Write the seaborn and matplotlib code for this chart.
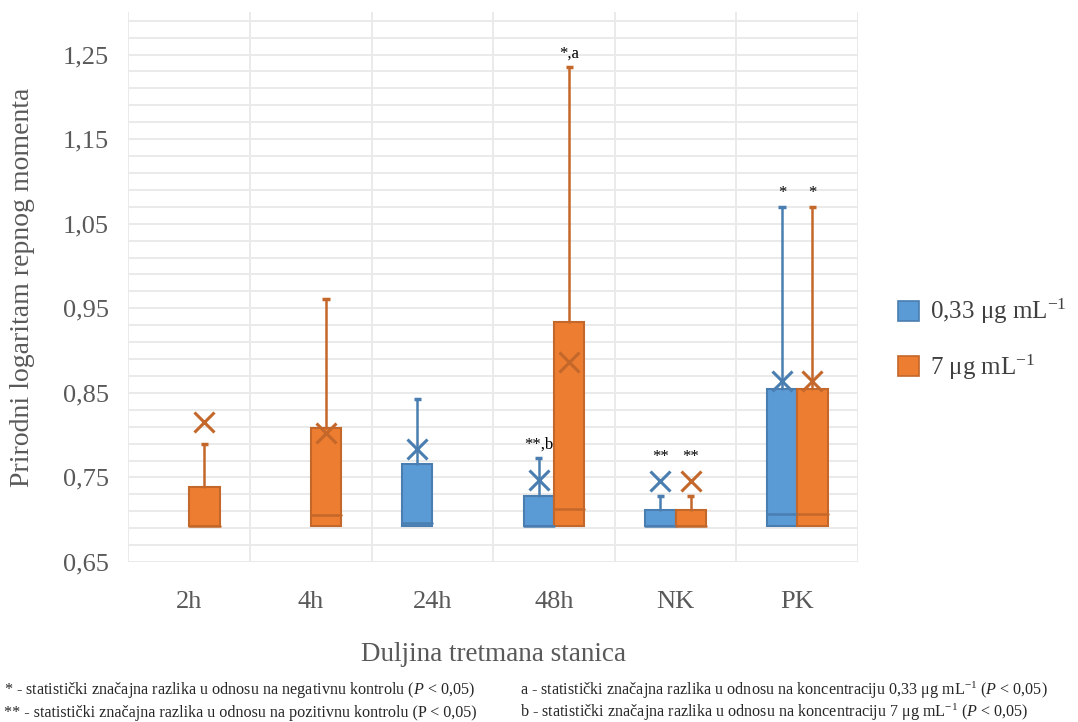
import numpy as np
import pandas as pd
import matplotlib
matplotlib.use('Agg')
import matplotlib.pyplot as plt
from matplotlib.patches import Patch
from matplotlib.ticker import FuncFormatter
import seaborn as sns

# data (natural log of tail moment)
groups = ['2h', '4h', '24h', '48h', 'NK', 'PK']
conc = ['0,33 μg mL$^{-1}$', '7 μg mL$^{-1}$']

q1_low = [0.693, 0.693, 0.693, 0.693, 0.693, 0.693]

q3_033 = [np.nan, np.nan, 0.766, 0.728, 0.711, 0.854]
med_033 = [np.nan, np.nan, 0.696, 0.693, 0.693, 0.707]
max_033 = [np.nan, np.nan, 0.843, 0.773, 0.728, 1.070]
mean_033 = [np.nan, np.nan, 0.784, 0.747, 0.746, 0.864]
sig_033 = ['', '', '', '**,b', '**', '*']

q3_7 = [0.739, 0.809, np.nan, 0.934, 0.711, 0.854]
med_7 = [0.693, 0.706, np.nan, 0.713, 0.693, 0.707]
max_7 = [0.790, 0.961, np.nan, 1.235, 0.728, 1.070]
mean_7 = [0.815, 0.803, np.nan, 0.887, 0.746, 0.864]
sig_7 = ['', '', '', '*,a', '**', '*']

face = {conc[0]: '#5B9BD5', conc[1]: '#ED7D31'}
edge = {conc[0]: '#4A7EB0', conc[1]: '#C4672A'}

sns.set_style('white')
plt.rcParams['font.family'] = ['Liberation Serif', 'DejaVu Serif']
plt.rcParams['mathtext.fontset'] = 'custom'
plt.rcParams['mathtext.rm'] = 'Liberation Serif'
plt.rcParams['mathtext.it'] = 'Liberation Serif:italic'
plt.rcParams['mathtext.default'] = 'regular'

rows = []
for i, g in enumerate(groups):
    rows.append(dict(grp=g, c=conc[0], h=q3_033[i] - q1_low[i], q1=q1_low[i],
                     med=med_033[i], mx=max_033[i], avg=mean_033[i], sig=sig_033[i]))
    rows.append(dict(grp=g, c=conc[1], h=q3_7[i] - q1_low[i], q1=q1_low[i],
                     med=med_7[i], mx=max_7[i], avg=mean_7[i], sig=sig_7[i]))
df = pd.DataFrame(rows)

fig = plt.figure(figsize=(10.78, 7.22), dpi=100)
ax = fig.add_axes([0.119, 0.2216, 0.677, 0.7614])

sns.barplot(data=df, x='grp', y='h', hue='c', order=groups, hue_order=conc,
            palette=face, saturation=1, width=0.5, errorbar=None,
            bottom=0.693, linewidth=1.5, legend=False, ax=ax)

for c, cont in zip(conc, ax.containers):
    sub = df[df.c == c].set_index('grp')
    for bar in cont:
        if not np.isfinite(bar.get_height()):
            continue
        bar.set_edgecolor(edge[c])
        x0 = bar.get_x()
        w = bar.get_width()
        xc = x0 + w / 2
        r = sub.loc[groups[int(round(xc))]]
        top = r['q1'] + r['h']
        # median
        ax.plot([x0, x0 + w], [r['med'], r['med']], color=edge[c], lw=1.8, zorder=3)
        # upper whisker + cap
        ax.plot([xc, xc], [top, r['mx']], color=edge[c], lw=1.8, zorder=2)
        ax.plot([xc - 0.03, xc + 0.03], [r['mx'], r['mx']], color=edge[c], lw=2.5,
                solid_capstyle='butt', zorder=3)
        # mean
        ax.plot([xc], [r['avg']], marker='x', ms=15, mew=2.2, color=edge[c], zorder=4)
        if r['sig']:
            ax.annotate(r['sig'], (xc, max(r['mx'], r['avg'] + 0.012)), xytext=(0, 4),
                        textcoords='offset points', ha='center', va='bottom',
                        fontsize=12, color='black')

ax.set_xlim(-0.5, len(groups) - 0.5)
ax.set_ylim(0.65, 1.30)
ax.set_yticks(np.arange(0.65, 1.26, 0.1))
ax.set_yticks(np.arange(0.65, 1.30, 0.02), minor=True)
ax.set_xticks(np.arange(-0.5, len(groups), 1.0), minor=True)
ax.yaxis.set_major_formatter(FuncFormatter(lambda v, p: f'{v:.2f}'.replace('.', ',')))
ax.grid(which='minor', color='#EAEAEA', lw=1.4)
ax.grid(which='major', axis='y', color='#EAEAEA', lw=1.4)
ax.grid(which='major', axis='x', visible=False)
ax.set_axisbelow(True)
for s in ax.spines.values():
    s.set_visible(False)
ax.tick_params(which='both', length=0)
ax.tick_params(axis='y', labelsize=19, labelcolor='#595959', pad=14)
ax.tick_params(axis='x', labelsize=19, labelcolor='#595959', pad=21)

ax.set_xlabel('Duljina tretmana stanica', fontsize=19.5, color='#595959', labelpad=21)
ax.set_ylabel('Prirodni logaritam repnog momenta', fontsize=20, color='#595959', labelpad=20)

handles = [Patch(facecolor=face[c], edgecolor=edge[c], lw=1.2) for c in conc]
fig.legend(handles, conc, loc='center left', bbox_to_anchor=(0.812, 0.53),
           frameon=False, fontsize=18, handlelength=0.85, handleheight=0.85,
           handletextpad=0.45, labelspacing=1.05, labelcolor='#404040')

fs_note = 11.6
fig.text(0.004, 0.044, '* - statistički značajna razlika u odnosu na negativnu kontrolu ($\\mathit{P}$ < 0,05)',
         fontsize=fs_note, va='center')
fig.text(0.004, 0.013, '** - statistički značajna razlika u odnosu na pozitivnu kontrolu (P < 0,05)',
         fontsize=fs_note, va='center')
fig.text(0.482, 0.044, 'a - statistički značajna razlika u odnosu na koncentraciju 0,33 μg mL$^{-1}$ ($\\mathit{P}$ < 0,05)',
         fontsize=fs_note, va='center')
fig.text(0.482, 0.013, 'b - statistički značajna razlika u odnosu na koncentraciju 7 μg mL$^{-1}$ ($\\mathit{P}$ < 0,05)',
         fontsize=fs_note, va='center')

fig.savefig('out.png', dpi=100)
